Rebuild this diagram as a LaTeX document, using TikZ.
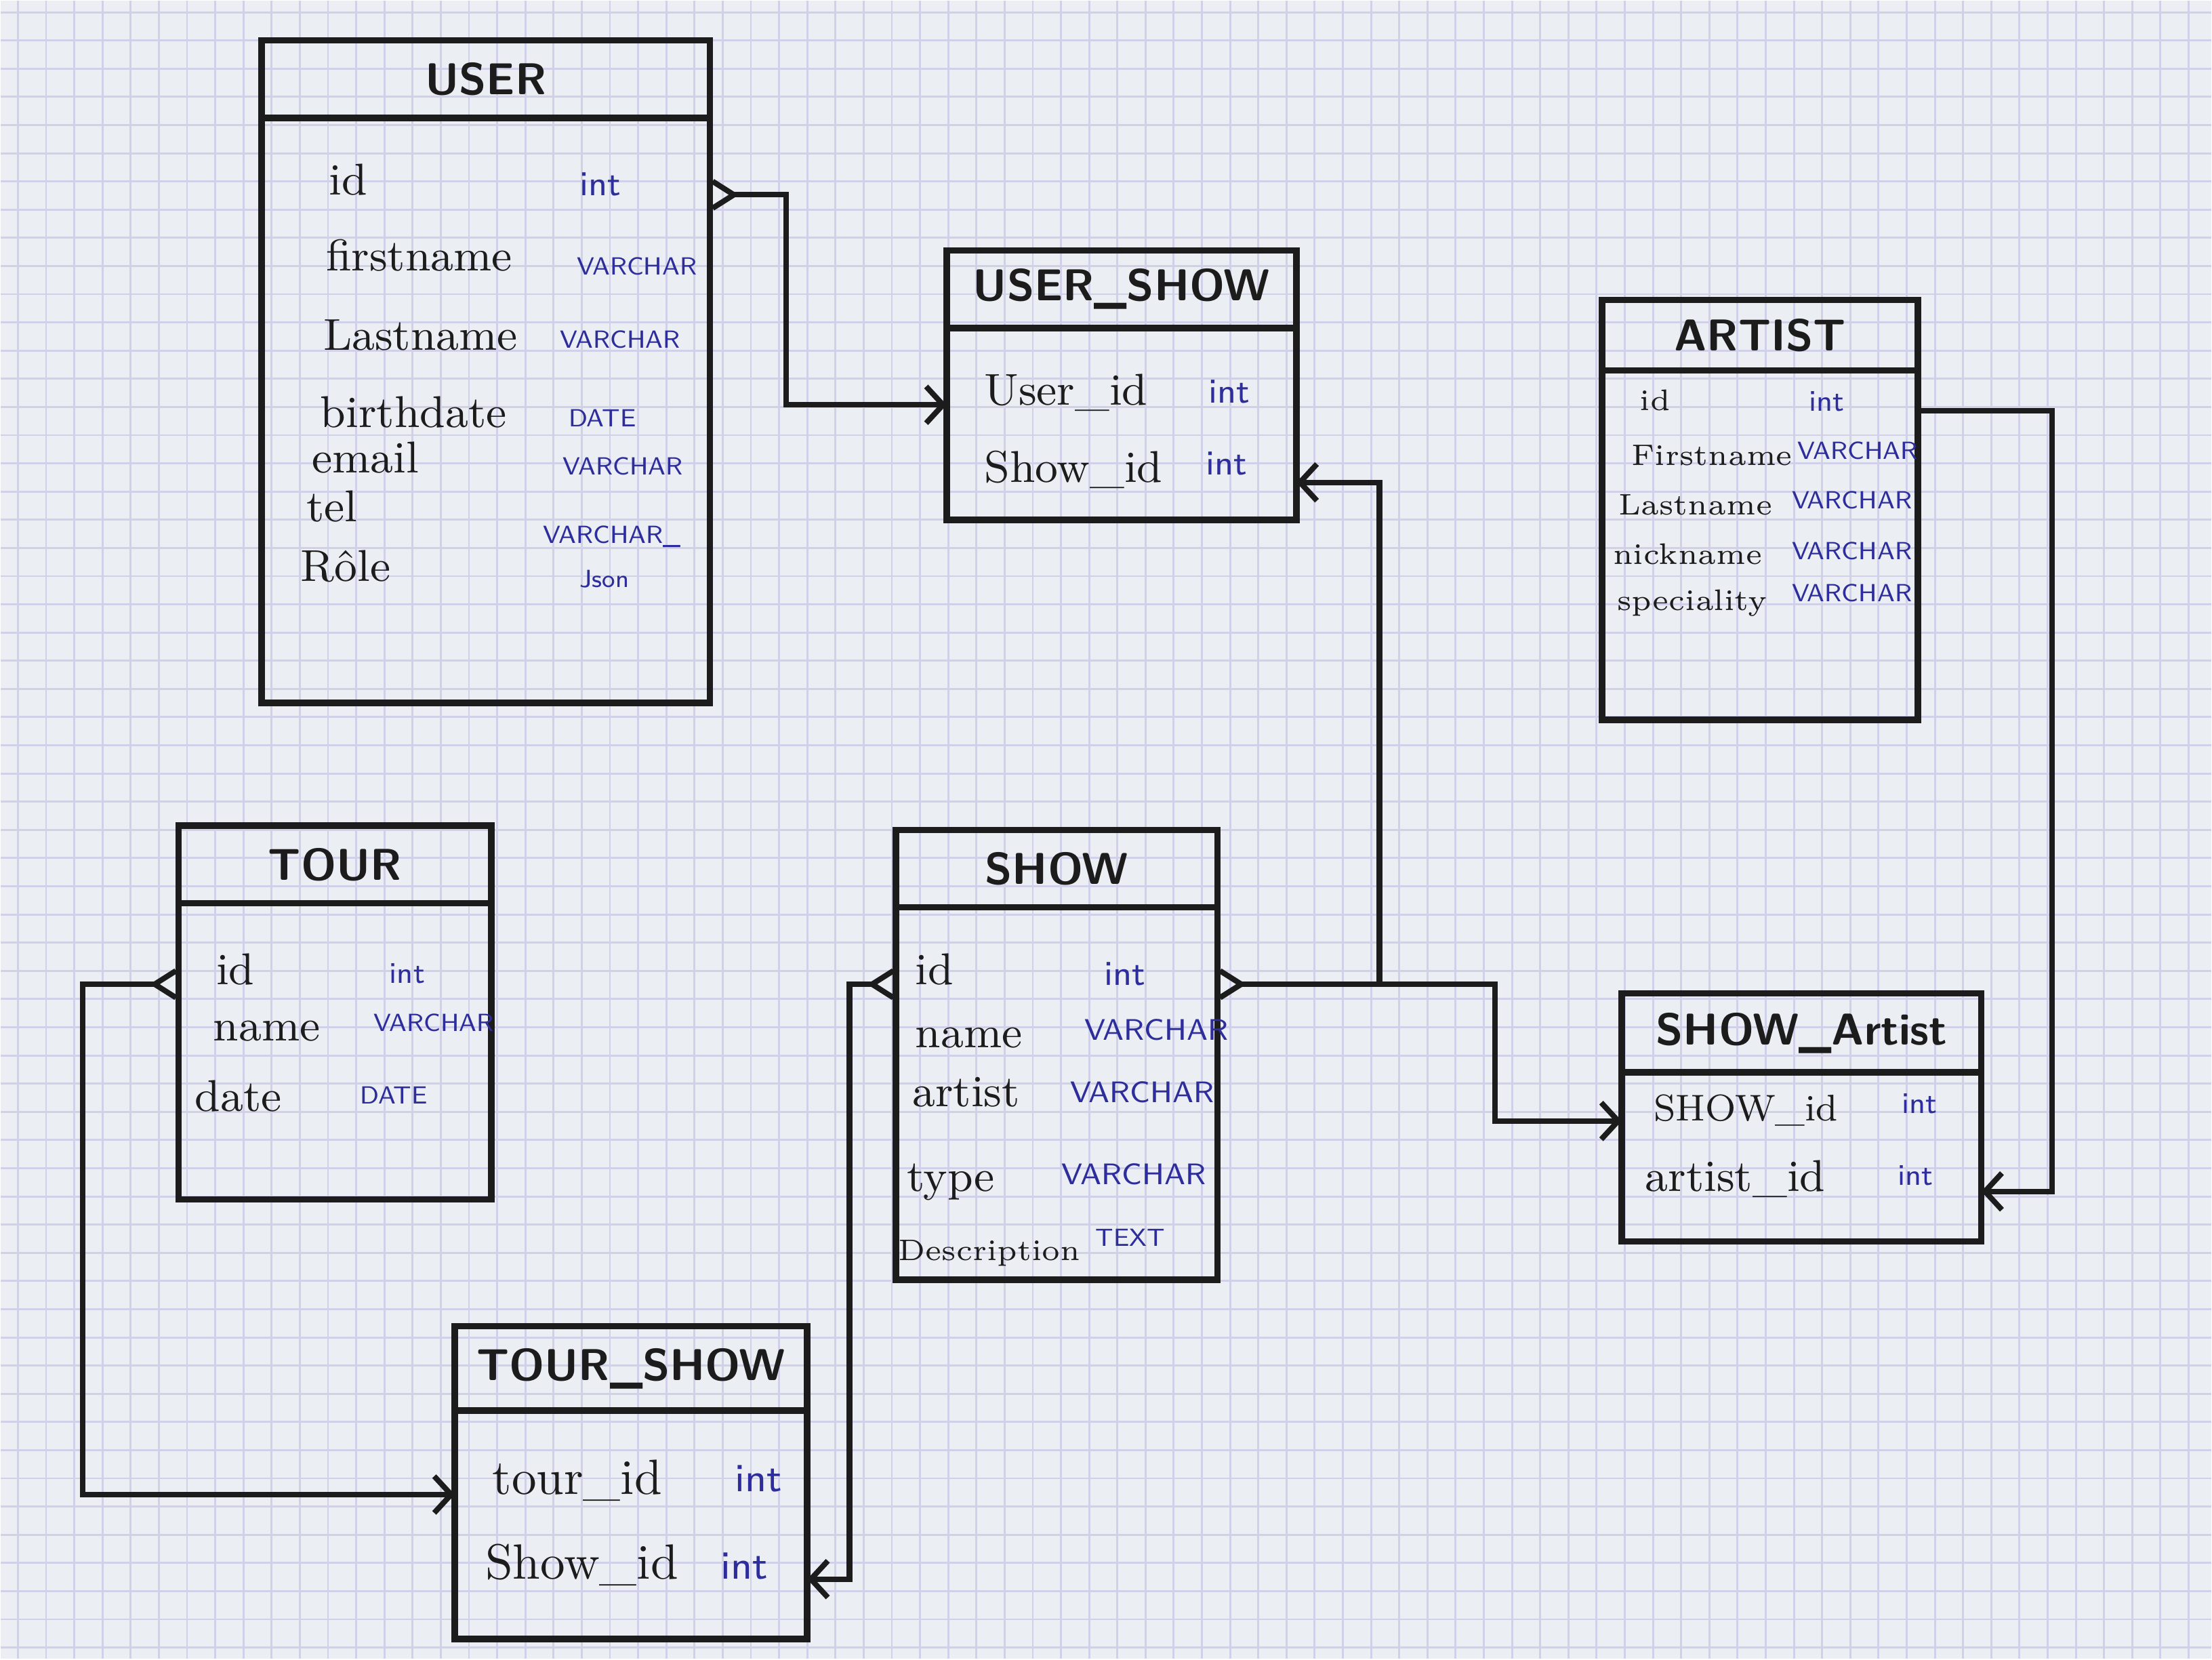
\documentclass[tikz,border=0pt]{standalone}
\usetikzlibrary{positioning,arrows.meta}

\definecolor{paper}{RGB}{235,238,242}
\definecolor{gridlila}{RGB}{208,208,232}
\definecolor{ink}{RGB}{28,28,28}
\definecolor{inkblue}{RGB}{45,45,155}

\tikzset{
  gridln/.style={draw=gridlila, line width=0.4pt},
  head/.style={draw=ink, line width=1.3pt, outer sep=0pt, minimum height=0.55cm,
    text=ink, font=\sffamily\bfseries\fontsize{9}{10}\selectfont},
  body/.style={draw=ink, line width=1.3pt, outer sep=0pt},
  fld/.style={anchor=west, inner sep=0pt, text height=1.5ex, text depth=.25ex,
    text=ink, font=\fontsize{#1}{#1}\selectfont},
  fld/.default=9,
  typ/.style={anchor=west, inner sep=0pt, text=inkblue,
    font=\sffamily\fontsize{#1}{#1}\selectfont},
  typ/.default=5,
  barb/.tip={Straight Barb[length=1.2mm, width=2.6mm]},
  crow/.tip={Straight Barb[reversed, length=1.5mm, width=1.9mm]},
  rel/.style={draw=ink, line width=1.1pt, -barb},
  many/.style={draw=ink, line width=1.1pt, crow-barb},
}

\begin{document}
\begin{tikzpicture}[y=-1cm]

  % --- feuille quadrillee ---
  \fill[paper] (0,0) rectangle (15.68,11.76);
  \foreach \gx in {0.12,0.32,...,15.68} \draw[gridln] (\gx,0) -- (\gx,11.76);
  \foreach \gy in {0.08,0.28,...,11.76} \draw[gridln] (0,\gy) -- (15.68,\gy);
  \useasboundingbox (0,0) rectangle (15.68,11.76);

  % --- USER ---
  \node[head, minimum width=3.18cm] (userh) at (3.44,0.555) {USER};
  \node[body, minimum width=3.18cm, minimum height=4.15cm, below=0pt of userh] (userb) {};
  \node[fld] (user-id)    at (2.32,1.28) {id};
  \node[fld] (user-fn)    at (2.30,1.82) {firstname};
  \node[fld] (user-ln)    at (2.28,2.38) {Lastname};
  \node[fld] (user-bd)    at (2.26,2.93) {birthdate};
  \node[fld] (user-mail)  at (2.20,3.25) {email};
  \node[fld] (user-tel)   at (2.16,3.60) {tel};
  \node[fld] (user-role)  at (2.12,4.02) {Rôle};
  \node[typ=7] (user-id-t)  at (4.10,1.30) {int};
  \node[typ] (user-fn-t)  at (4.08,1.88) {VARCHAR};
  \node[typ] (user-ln-t)  at (3.96,2.40) {VARCHAR};
  \node[typ] (user-bd-t)  at (4.02,2.96) {DATE};
  \node[typ] (user-mail-t) at (3.98,3.30) {VARCHAR};
  \node[typ] (user-role-t) at (3.84,3.80) {VARCHAR\_};
  \node[typ] (user-json-t) at (4.10,4.10) {Json};

  % --- USER_SHOW ---
  \node[head, minimum width=2.48cm] (ush) at (7.95,2.045) {USER\_SHOW};
  \node[body, minimum width=2.48cm, minimum height=1.36cm, below=0pt of ush] (usb) {};
  \node[fld] (us-uid) at (6.97,2.77) {User\_id};
  \node[fld] (us-sid) at (6.97,3.32) {Show\_id};
  \node[typ=7] (us-uid-t) at (8.56,2.77) {int};
  \node[typ=7] (us-sid-t) at (8.54,3.28) {int};

  % --- ARTIST ---
  \node[head, minimum width=2.24cm, minimum height=0.50cm] (arth) at (12.48,2.37) {ARTIST};
  \node[body, minimum width=2.24cm, minimum height=2.48cm, below=0pt of arth] (artb) {};
  \node[fld=6] (art-id)   at (11.62,2.81) {id};
  \node[fld=6] (art-fn)   at (11.56,3.20) {Firstname};
  \node[fld=6] (art-ln)   at (11.47,3.55) {Lastname};
  \node[fld=6] (art-nick) at (11.43,3.90) {nickname};
  \node[fld=6] (art-spec) at (11.46,4.23) {speciality};
  \node[typ=6] (art-id-t)   at (12.82,2.84) {int};
  \node[typ] (art-fn-t)   at (12.74,3.19) {VARCHAR};
  \node[typ] (art-ln-t)   at (12.70,3.54) {VARCHAR};
  \node[typ] (art-nick-t) at (12.70,3.90) {VARCHAR};
  \node[typ] (art-spec-t) at (12.70,4.20) {VARCHAR};

  % --- TOUR ---
  \node[head, minimum width=2.22cm] (tourh) at (2.37,6.125) {TOUR};
  \node[body, minimum width=2.22cm, minimum height=2.10cm, below=0pt of tourh] (tourb) {};
  \node[fld] (tour-id)   at (1.52,6.88) {id};
  \node[fld] (tour-name) at (1.50,7.28) {name};
  \node[fld] (tour-date) at (1.37,7.78) {date};
  \node[typ=6] (tour-id-t)   at (2.75,6.90) {int};
  \node[typ] (tour-name-t) at (2.64,7.25) {VARCHAR};
  \node[typ] (tour-date-t) at (2.54,7.76) {DATE};

  % --- SHOW ---
  \node[head, minimum width=2.28cm] (showh) at (7.49,6.155) {SHOW};
  \node[body, minimum width=2.28cm, minimum height=2.64cm, below=0pt of showh] (showb) {};
  \node[fld] (show-id)   at (6.48,6.88) {id};
  \node[fld] (show-name) at (6.48,7.33) {name};
  \node[fld] (show-art)  at (6.46,7.75) {artist};
  \node[fld] (show-type) at (6.42,8.35) {type};
  \node[fld=6] (show-desc) at (6.36,8.84) {Description};
  \node[typ=7] (show-id-t)   at (7.82,6.90) {int};
  \node[typ=6] (show-name-t) at (7.68,7.30) {VARCHAR};
  \node[typ=6] (show-art-t)  at (7.58,7.74) {VARCHAR};
  \node[typ=6] (show-type-t) at (7.52,8.32) {VARCHAR};
  \node[typ] (show-desc-t) at (7.76,8.77) {TEXT};

  % --- SHOW_Artist ---
  \node[head, minimum width=2.55cm, minimum height=0.56cm] (sah) at (12.775,7.32) {SHOW\_Artist};
  \node[body, minimum width=2.55cm, minimum height=1.20cm, below=0pt of sah] (sab) {};
  \node[fld=7.5] (sa-sid) at (11.72,7.85) {SHOW\_id};
  \node[fld] (sa-aid) at (11.66,8.35) {artist\_id};
  \node[typ=6] (sa-sid-t) at (13.48,7.82) {int};
  \node[typ=6] (sa-aid-t) at (13.45,8.33) {int};

  % --- TOUR_SHOW ---
  \node[head, minimum width=2.50cm, minimum height=0.60cm] (tsh) at (4.47,9.70) {TOUR\_SHOW};
  \node[body, minimum width=2.50cm, minimum height=1.62cm, below=0pt of tsh] (tsb) {};
  \node[fld=10] (ts-tid) at (3.48,10.50) {tour\_id};
  \node[fld=10] (ts-sid) at (3.43,11.10) {Show\_id};
  \node[typ=8] (ts-tid-t) at (5.20,10.48) {int};
  \node[typ=8] (ts-sid-t) at (5.10,11.10) {int};

  % --- liens ---
  \draw[many] (userb.east |- user-id.base) -- ++(0.54,0) |- (usb.west |- us-uid.base);
  \draw[many] (showb.east |- show-id.base) -- ++(1.15,0) coordinate (jn)
    |- (usb.east |- us-sid.base);
  \draw[rel] (jn) -- ++(0.82,0) |- (sab.west |- sa-sid.base);
  \draw[rel] (artb.east |- art-id.base) -- ++(0.95,0) |- (sab.east |- sa-aid.base);
  \draw[many] (tourb.west |- tour-id.base) -- ++(-0.68,0) |- (tsb.west |- ts-tid.base);
  \draw[many] (showb.west |- show-id.base) -- ++(-0.33,0) |- (tsb.east |- ts-sid.base);

\end{tikzpicture}
\end{document}
